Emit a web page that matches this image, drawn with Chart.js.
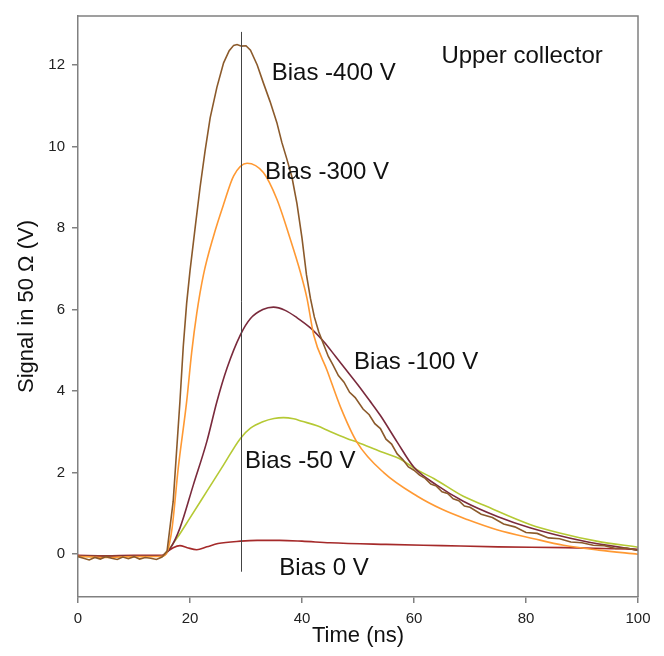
<!DOCTYPE html>
<html>
<head>
<meta charset="utf-8">
<script src="https://cdn.jsdelivr.net/npm/chart.js@4.4.1/dist/chart.umd.min.js"></script>
<style>
  html, body { margin: 0; padding: 0; background: #fff; }
  #wrap { width: 664px; height: 656px; }
</style>
</head>
<body>
<div id="wrap"><canvas id="c" width="664" height="656"></canvas></div>
<script>
// Signal vs time for different bias voltages (upper collector)

const xTicks = [0, 20, 40, 60, 80, 100];
const yTicks = [0, 2, 4, 6, 8, 10, 12];

// Bias -400 V (noisy trace)
const t400 = [0,1,2,3,4,5,6,7,8,9,10,11,12,13,14,15,15.9,17,18.2,18.8,19.4,20,21,21.8,22.7,23.6,24.8,26,27,27.8,28.4,29.2,30,30.8,32,33.1,34.3,35.5,36.4,37.3,38.2,39.1,40,40.8,41.5,42.2,43,43.9,44.7,45.5,46.5,47.5,48.5,49.5,50.9,52,53,54,55,56,57,58,59,60,61,62,63,64,65,66,67,68,69,70,72,74,76,78,80,82,84,86,88,90,92,94,96,98,100];
const v400 = [-0.06,-0.1,-0.14,-0.08,-0.12,-0.06,-0.1,-0.13,-0.07,-0.11,-0.06,-0.12,-0.08,-0.1,-0.13,-0.07,0.07,1.3,3.74,5.1,6.15,6.95,8.1,9.0,9.9,10.7,11.45,12.05,12.35,12.48,12.5,12.46,12.47,12.36,12.0,11.56,11.1,10.59,10.1,9.69,9.25,8.6,7.75,6.85,6.28,5.82,5.45,5.13,4.85,4.65,4.38,4.22,3.97,3.84,3.56,3.42,3.2,3.08,2.82,2.7,2.46,2.32,2.14,2.06,1.94,1.86,1.72,1.67,1.53,1.49,1.36,1.31,1.18,1.15,0.98,0.9,0.74,0.67,0.53,0.51,0.4,0.38,0.3,0.28,0.22,0.21,0.14,0.15,0.09];

// Bias -300 V
const t300 = [0,5,10,15,15.9,16.8,17.9,19.4,20.3,21.2,22.4,24.2,26,27.8,30.2,33.1,35.5,37.9,39.7,40.9,42.1,44.5,46.9,49.8,54.6,60.6,65,69.5,74.8,81.4,86.7,93,100];
const v300 = [-0.05,-0.08,-0.06,-0.05,0.05,0.64,2.11,3.74,4.95,5.9,6.85,7.8,8.58,9.28,9.59,9.36,8.71,7.73,6.92,6.27,5.37,4.5,3.6,2.75,2.0,1.42,1.1,0.85,0.6,0.38,0.22,0.1,0.0];

// Bias -100 V
const t100 = [0,5,10,15,16.5,18.2,20.6,23,24.8,26.6,29,30.8,33,34.9,37,39.1,41.5,43.9,46,48,50,52,54,57,60,64,68.8,75,80.7,90,100];
const v100 = [-0.04,-0.05,-0.04,-0.04,0.15,0.64,1.70,2.76,3.74,4.56,5.38,5.78,6.0,6.06,5.98,5.80,5.55,5.21,4.85,4.5,4.15,3.78,3.4,2.75,2.13,1.7,1.3,0.92,0.65,0.33,0.1];

// Bias -50 V
const t50 = [0,5,10,15,15.8,17.7,20,23,26,29,30.8,33,35,36.7,38.5,40,42.7,45,48,50,54,57.6,60.5,63.6,68.8,72.5,80.7,86,92.6,100];
const v50 = [-0.05,-0.06,-0.05,-0.05,0.05,0.40,0.89,1.54,2.19,2.84,3.09,3.25,3.33,3.35,3.32,3.26,3.15,3.01,2.84,2.74,2.52,2.33,2.07,1.85,1.42,1.2,0.73,0.52,0.32,0.17];

// Bias 0 V
const t0 = [0,5,10,15,15.8,17,18.2,19.5,21.2,23,25,29,32,36,40,45,55,65,75,87,100];
const v0 = [-0.03,-0.04,-0.03,-0.03,0.05,0.16,0.21,0.16,0.11,0.18,0.26,0.32,0.34,0.34,0.32,0.28,0.24,0.21,0.18,0.16,0.12];

// text placed on the plot (data coordinates, baseline-left)
const notes = [
  { text: 'Upper collector', t: 64.9, v: 12.04 },
  { text: 'Bias -400 V', t: 34.6, v: 11.63 },
  { text: 'Bias -300 V', t: 33.4, v: 9.19 },
  { text: 'Bias -100 V', t: 49.3, v: 4.55 },
  { text: 'Bias -50 V', t: 29.8, v: 2.11 },
  { text: 'Bias 0 V', t: 35.95, v: -0.5 }
];
const marker = { t: 29.05, from: -0.43, to: 12.81 };

const FONT = "'Liberation Sans', Arial, sans-serif";
const AXIS = '#808080';

function pts(t, v) { return t.map((x, i) => ({ x: x, y: v[i] })); }

function line(label, t, v, color, smooth) {
  return {
    label: label, data: pts(t, v), borderColor: color, backgroundColor: color,
    borderWidth: 1.6, pointRadius: 0, fill: false,
    tension: smooth ? 0.4 : 0, cubicInterpolationMode: smooth ? 'monotone' : 'default'
  };
}

const extras = {
  id: 'extras',
  afterDraw(chart) {
    const { ctx, chartArea: a, scales: { x, y } } = chart;
    ctx.save();
    // top and right frame
    ctx.strokeStyle = AXIS; ctx.lineWidth = 1.5;
    ctx.beginPath();
    ctx.moveTo(a.left, a.top); ctx.lineTo(a.right, a.top); ctx.lineTo(a.right, a.bottom);
    ctx.stroke();
    // vertical marker
    ctx.strokeStyle = '#444'; ctx.lineWidth = 1;
    const mx = Math.round(x.getPixelForValue(marker.t)) + 0.5;
    ctx.beginPath();
    ctx.moveTo(mx, y.getPixelForValue(marker.to));
    ctx.lineTo(mx, y.getPixelForValue(marker.from));
    ctx.stroke();
    // notes
    ctx.fillStyle = '#111';
    ctx.font = '24px ' + FONT;
    ctx.textAlign = 'left'; ctx.textBaseline = 'alphabetic';
    notes.forEach(n => ctx.fillText(n.text, x.getPixelForValue(n.t), y.getPixelForValue(n.v)));
    ctx.restore();
  }
};

new Chart(document.getElementById('c'), {
  type: 'line',
  data: {
    datasets: [
      line('Bias -400 V', t400, v400, '#8b5a2b', false),
      line('Bias -300 V', t300, v300, '#ff9933', true),
      line('Bias -100 V', t100, v100, '#7a2a3c', true),
      line('Bias -50 V', t50, v50, '#b5c934', true),
      line('Bias 0 V', t0, v0, '#a52a2a', true)
    ]
  },
  options: {
    responsive: false, animation: false,
    layout: { padding: { left: 0, top: 13, right: 26, bottom: 0 } },
    plugins: { legend: { display: false }, tooltip: { enabled: false } },
    scales: {
      x: {
        type: 'linear', min: 0, max: 100,
        afterBuildTicks: s => { s.ticks = xTicks.map(v => ({ value: v })); },
        afterFit: s => { s.height = 59; },
        grid: { drawOnChartArea: false, drawTicks: true, tickLength: 6, color: AXIS, lineWidth: 1.5 },
        border: { display: true, color: AXIS, width: 1.5 },
        ticks: { padding: 7, color: '#222', font: { family: FONT, size: 15 }, maxRotation: 0 },
        title: { display: true, text: 'Time (ns)', color: '#111', font: { family: FONT, size: 22 }, padding: { top: 0, bottom: 7 } }
      },
      y: {
        type: 'linear', min: -1.05, max: 13.2,
        afterBuildTicks: s => { s.ticks = yTicks.map(v => ({ value: v })); },
        afterFit: s => { s.width = 78; },
        grid: { drawOnChartArea: false, drawTicks: true, tickLength: 6, color: AXIS, lineWidth: 1.5 },
        border: { display: true, color: AXIS, width: 1.5 },
        ticks: { padding: 7, color: '#222', font: { family: FONT, size: 15 } },
        title: { display: true, text: 'Signal in 50 Ω (V)', color: '#111', font: { family: FONT, size: 22 }, padding: { top: 14, bottom: 0 } }
      }
    }
  },
  plugins: [extras]
});
</script>
</body>
</html>
